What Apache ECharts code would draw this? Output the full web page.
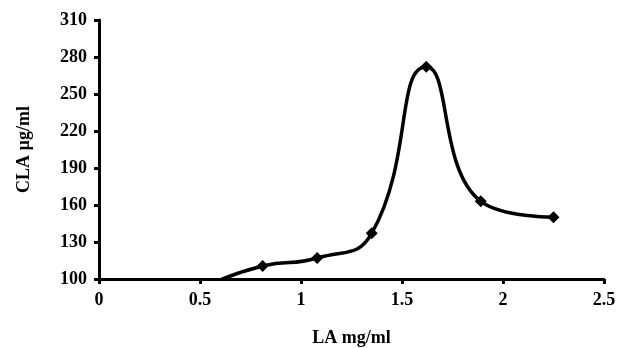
<!DOCTYPE html>
<html>
<head>
<meta charset="utf-8">
<script src="https://cdn.jsdelivr.net/npm/echarts@6/dist/echarts.min.js"></script>
<style>
  html, body { margin: 0; padding: 0; background: #fff; }
  #chart { width: 620px; height: 348px; }
</style>
</head>
<body>
<div id="chart"></div>
<script>
    // LA concentration (mg/ml) vs CLA (µg/ml)
    const laValues = [0.54, 0.81, 1.08, 1.35, 1.62, 1.89, 2.25]
    const claValues = [95, 110.5, 117, 137, 272, 163, 150]
    const yTicks = [100, 130, 160, 190, 220, 250, 280, 310]
    const xTicks = [0, 0.5, 1, 1.5, 2, 2.5]

    const font = 'Liberation Serif'
    const points = laValues.map((x, i) => [x, claValues[i]])

    let myChart = echarts.init(document.getElementById('chart'))
    let options = {
        animation: false,
        backgroundColor: '#fff',
        grid: {
            left: 99,
            right: 16,
            top: 20,
            bottom: 69,
            outerBoundsMode: 'none'
        },
        xAxis: {
            type: 'value',
            min: xTicks[0],
            max: xTicks[xTicks.length - 1],
            interval: 0.5,
            name: 'LA mg/ml',
            nameLocation: 'middle',
            nameGap: 50,
            nameTextStyle: { fontFamily: font, fontWeight: 'bold', fontSize: 18, color: '#000' },
            axisLine: { onZero: false, lineStyle: { color: '#000', width: 3 } },
            axisTick: { show: true, length: 5, lineStyle: { color: '#000', width: 3 } },
            axisLabel: { fontFamily: font, fontWeight: 'bold', fontSize: 18, color: '#000', margin: 12 },
            splitLine: { show: false }
        },
        yAxis: {
            type: 'value',
            min: yTicks[0],
            max: yTicks[yTicks.length - 1],
            interval: 30,
            name: 'CLA µg/ml',
            nameLocation: 'middle',
            nameGap: 66,
            nameTextStyle: { fontFamily: font, fontWeight: 'bold', fontSize: 18, color: '#000' },
            axisLine: { show: true, lineStyle: { color: '#000', width: 3 } },
            axisTick: { show: true, length: 5, lineStyle: { color: '#000', width: 3 } },
            axisLabel: { fontFamily: font, fontWeight: 'bold', fontSize: 18, color: '#000', margin: 12 },
            splitLine: { show: false }
        },
        series: [
            {
                type: 'line',
                data: points,
                smooth: 0.5,
                clip: true,
                symbol: 'diamond',
                symbolSize: 12,
                showAllSymbol: true,
                lineStyle: { color: '#000', width: 3.5 },
                itemStyle: { color: '#000' }
            }
        ]
    }
    myChart.setOption(options)
</script>
</body>
</html>
